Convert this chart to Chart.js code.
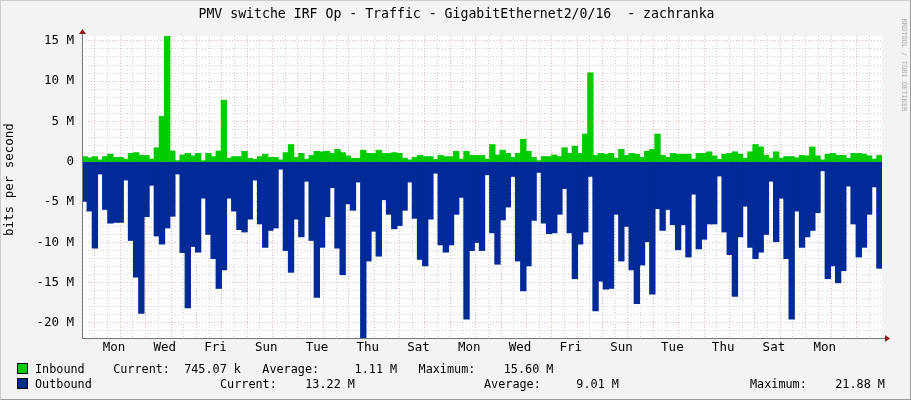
<!DOCTYPE html>
<html>
<head>
<meta charset="utf-8">
<script src="https://cdn.jsdelivr.net/npm/chart.js@4"></script>
<style>
  body{margin:0;background:#f3f3f3;}
  #wrap{position:relative;width:911px;height:400px;box-sizing:border-box;border:1px solid #ccc;border-right-color:#999;border-bottom-color:#999;overflow:hidden;font-family:"DejaVu Sans Mono",monospace;font-size:11.8px;color:#000;}
  #wrap canvas{position:absolute;left:0;top:0;}
  .t{position:absolute;white-space:pre;line-height:14px;}
  .sq{position:absolute;width:9px;height:9px;border:1px solid #000;}
</style>
</head>
<body>
<div id="wrap">
  <canvas id="c" width="911" height="400"></canvas>
  <div class="t" style="left:0;width:911px;top:6px;text-align:center;font-size:13.2px">PMV switche IRF Op - Traffic - GigabitEthernet2/0/16  - zachranka</div>
  <div class="t" style="left:-42px;top:178px;transform:rotate(-90deg);width:100px;text-align:center;font-size:12.5px">bits per second</div>
  <div class="t" style="left:848px;top:57px;transform:rotate(90deg);width:110px;text-align:center;font-size:7px;color:#aaa">RRDTOOL / TOBI OETIKER</div>
  <div class="sq" style="left:16px;top:362px;background:#00cc00"></div>
  <div class="t" style="left:34px;top:361px">Inbound    Current:  745.07 k   Average:     1.11 M   Maximum:    15.60 M</div>
  <div class="sq" style="left:16px;top:377px;background:#002a97"></div>
  <div class="t" style="left:34px;top:376px">Outbound</div>
  <div class="t" style="left:219px;top:376px">Current:    13.22 M</div>
  <div class="t" style="left:483px;top:376px">Average:     9.01 M</div>
  <div class="t" style="left:749px;top:376px">Maximum:    21.88 M</div>
</div>
<script>
// values in Mbit/s, one bar per 4.8 h (5 per day)
const inbound = [
  0.6,0.45,0.6,0.2,0.6,0.9,0.5,0.5,0.3,1.0,1.1,0.75,0.75,0.3,1.7,5.6,15.6,1.3,0.1,0.8,
  1.0,0.7,1.0,0.1,1.0,0.6,1.3,7.6,0.4,0.6,0.6,1.25,0.4,0.25,0.6,0.9,0.5,0.5,0.2,1.1,
  2.1,0.5,1.0,0.3,0.75,1.25,1.2,1.25,1.0,1.5,1.1,0.7,0.4,0.4,1.4,1.0,1.0,1.4,1.0,1.0,
  1.1,1.0,0.4,0.2,0.5,0.75,0.6,0.6,0.25,0.75,0.6,0.6,1.25,0.3,1.25,0.75,0.75,0.75,0.3,
  2.1,0.8,1.4,1.0,0.5,1.0,2.75,1.25,0.5,0.1,0.6,0.6,0.8,0.6,1.7,1.0,1.9,1.0,3.4,11,
  0.75,1.0,0.9,1.0,0.4,1.5,0.75,1.0,0.9,0.5,1.25,1.5,3.4,0.75,0.5,1.0,0.9,0.9,0.9,
  0.3,1.0,1.0,1.2,0.7,0.25,0.9,1.0,1.2,0.9,0.4,1.2,2.1,1.8,0.75,0.4,1.2,0.4,0.6,0.6,
  0.45,0.75,0.7,1.8,0.7,0.2,0.9,1.0,0.75,0.75,0.4,1.0,1.0,0.9,0.7,0.3,0.75
];
const outbound = [
  -4.9,-6.1,-10.7,-1.5,-5.9,-7.6,-7.5,-7.5,-2.25,-9.75,-14.3,-18.8,-6.8,-2.9,-9.2,-10.2,-8.2,-6.75,-1.5,-11.25,
  -18.1,-10.5,-11.2,-4.5,-9,-12,-15.7,-13.4,-4.5,-6.1,-8.4,-8.7,-7.1,-2.25,-7.7,-10.6,-8.5,-8.2,-0.9,-11,
  -13.7,-7.1,-9.3,-2.4,-9.75,-16.8,-10.6,-6.8,-3.2,-10.7,-14,-5.2,-6,-2.5,-21.88,-12.3,-8.6,-11.7,-4.7,-6.5,
  -8.3,-7.9,-6,-2.5,-7,-12.1,-12.9,-7.1,-1.4,-10.3,-11.2,-10.3,-6.5,-4.4,-19.5,-11,-10,-11,-1.6,
  -8.8,-12.7,-7.2,-5.6,-1.8,-12.3,-16,-12.9,-7.25,-1.3,-7.6,-8.9,-8.8,-6.5,-3.3,-8.8,-14.5,-10.2,-8.7,-1.8,
  -18.5,-14.8,-15.8,-15.7,-6.5,-12.3,-8,-13.4,-17.6,-12.8,-9.9,-16.4,-5.8,-8.5,-5.9,-7.8,-10.9,-7.8,-11.8,
  -4,-10.8,-9.6,-7.7,-7.7,-1.75,-8.7,-11.5,-16.7,-9.3,-5.5,-10.6,-12,-11.2,-9,-2.4,-9.9,-4.5,-12,-19.5,
  -6.1,-10.6,-9.3,-8.5,-6.3,-1.1,-14.5,-12.9,-15,-13.5,-3,-7.7,-11.8,-10.6,-6.5,-3.1,-13.2
];
const dayLabels = ['Mon','Wed','Fri','Sun','Tue','Thu','Sat','Mon','Wed','Fri','Sun','Tue','Thu','Sat','Mon'];
const yMin = -21.88, yMax = 15.6;
const barsPerDay = 5, firstMidnight = 2.5;

const RED = 'rgba(235,120,120,0.55)', GREY = 'rgba(180,180,180,0.6)';
const n = inbound.length;

const plotBg = {
  id:'plotBg',
  beforeDraw(chart){
    const {ctx, chartArea:a} = chart;
    ctx.save();
    ctx.fillStyle = '#fff';
    ctx.fillRect(a.left, a.top, a.right-a.left, a.bottom-a.top);
    ctx.restore();
  },
  afterDraw(chart){
    const {ctx, chartArea:a} = chart;
    ctx.save();
    ctx.strokeStyle = '#777'; ctx.lineWidth = 1;
    ctx.beginPath();
    ctx.moveTo(a.left+0.5, a.bottom); ctx.lineTo(a.left+0.5, a.top-3);
    ctx.moveTo(a.left, a.bottom+0.5); ctx.lineTo(a.right+4, a.bottom+0.5);
    ctx.stroke();
    ctx.fillStyle = '#8b1a1a';
    ctx.beginPath();
    ctx.moveTo(a.left-3, a.top-2); ctx.lineTo(a.left+4, a.top-2); ctx.lineTo(a.left+0.5, a.top-7); ctx.fill();
    ctx.beginPath();
    ctx.moveTo(a.right+3, a.bottom-3); ctx.lineTo(a.right+3, a.bottom+4); ctx.lineTo(a.right+8, a.bottom+0.5); ctx.fill();
    ctx.restore();
  }
};

new Chart(document.getElementById('c'), {
  type:'bar',
  data:{
    labels: inbound.map((_, i) => i),
    datasets:[
      { label:'Inbound', data:inbound, backgroundColor:'#00cc00' },
      { label:'Outbound', data:outbound, backgroundColor:'#002a97' }
    ]
  },
  options:{
    responsive:false,
    animation:false,
    layout:{ padding:{ left:0, top:35, right:30, bottom:43 } },
    datasets:{ bar:{ barPercentage:1, categoryPercentage:1, borderWidth:0, inflateAmount:0.6 } },
    plugins:{ legend:{ display:false }, tooltip:{ enabled:false } },
    scales:{
      x:{ stacked:true, display:false },
      xg:{
        type:'linear', position:'bottom', min:0, max:n,
        afterBuildTicks(s){
          const t = [];
          for(let v = firstMidnight; v < n; v += barsPerDay/2) t.push({ value:v });
          s.ticks = t;
        },
        afterFit(s){ s.height = 20; },
        ticks:{
          autoSkip:false, maxRotation:0, padding:2, color:'#000',
          font:{ family:'DejaVu Sans Mono', size:12.5 },
          callback(v){
            const k = (v - firstMidnight - barsPerDay/2) / (barsPerDay*2);
            return Number.isInteger(k) && dayLabels[k] ? dayLabels[k] : '';
          }
        },
        grid:{
          drawTicks:false, lineWidth:1,
          color: c => c.tick && ((c.tick.value - firstMidnight) % barsPerDay === 0) ? RED : GREY
        },
        border:{ display:false, dash:[1,2] }
      },
      y:{
        stacked:true, min:yMin, max:yMax,
        afterBuildTicks(s){
          const t = [];
          for(let v = Math.ceil(yMin); v <= Math.floor(yMax); v++) t.push({ value:v });
          s.ticks = t;
        },
        afterFit(s){ s.width = 81; },
        ticks:{
          autoSkip:false, padding:8, color:'#000',
          font:{ family:'DejaVu Sans Mono', size:12.5 },
          callback: v => v % 5 !== 0 ? '' : (v === 0 ? '0' : v + ' M')
        },
        grid:{
          drawTicks:false, lineWidth:1,
          color: c => c.tick && c.tick.value % 5 === 0 ? RED : GREY
        },
        border:{ display:false, dash:[1,2] }
      }
    }
  },
  plugins:[plotBg]
});
</script>
</body>
</html>
